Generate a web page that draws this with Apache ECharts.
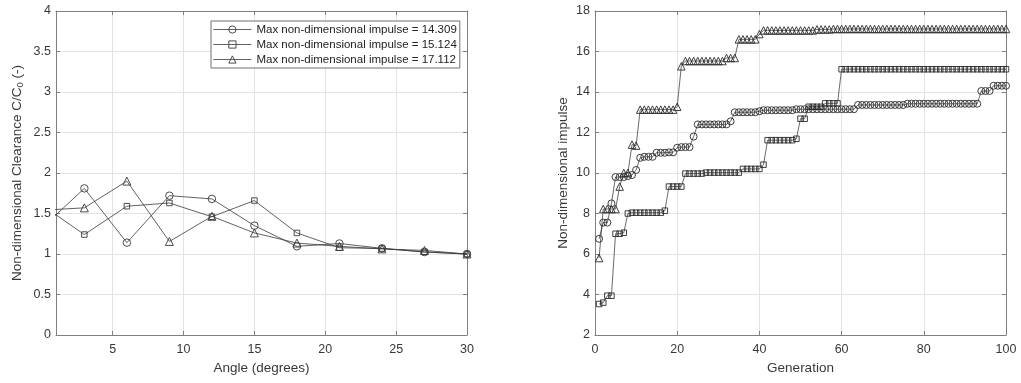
<!DOCTYPE html>
<html>
<head>
<meta charset="utf-8">
<script src="https://cdn.jsdelivr.net/npm/echarts@6/dist/echarts.min.js"></script>
<style>
html,body{margin:0;padding:0;background:#fff;}
#c{width:1021px;height:383px;}
</style>
</head>
<body>
<div id="c"></div>
<script>
// ---------- Left chart data ----------
const angles = [0, 3, 6, 9, 12, 15, 18, 21, 24, 27, 30];
const clearCircle   = [1.32, 1.81, 1.14, 1.72, 1.68, 1.35, 1.095, 1.13, 1.07, 1.025, 1.0];
const clearSquare   = [1.605, 1.24, 1.59, 1.63, 1.46, 1.66, 1.26, 1.077, 1.068, 1.025, 1.0];
const clearTriangle = [1.54, 1.57, 1.90, 1.155, 1.465, 1.26, 1.135, 1.094, 1.063, 1.044, 1.0];
const angleTicks = [5, 10, 15, 20, 25, 30];

const seriesNames = [
  'Max non-dimensional impulse = 14.309',
  'Max non-dimensional impulse = 15.124',
  'Max non-dimensional impulse = 17.112'
];

// ---------- Right chart data ----------
const generations = [
  1,2,3,4,5,6,7,8,9,10,11,12,13,14,15,16,17,18,19,20,
  21,22,23,24,25,26,27,28,29,30,31,32,33,34,35,36,37,38,39,40,
  41,42,43,44,45,46,47,48,49,50,51,52,53,54,55,56,57,58,59,60,
  61,62,63,64,65,66,67,68,69,70,71,72,73,74,75,76,77,78,79,80,
  81,82,83,84,85,86,87,88,89,90,91,92,93,94,95,96,97,98,99,100
];
const impulseCircle = [
  6.75,7.55,7.55,8.5,9.8,9.8,9.8,9.85,9.9,10.15,
  10.75,10.8,10.8,10.8,11.0,11.0,11.0,11.02,11.02,11.25,
  11.28,11.28,11.28,11.8,12.4,12.4,12.4,12.4,12.4,12.4,
  12.4,12.4,12.55,13.0,13.0,13.0,13.0,13.0,13.0,13.05,
  13.1,13.1,13.1,13.1,13.1,13.1,13.1,13.1,13.15,13.15,
  13.15,13.15,13.15,13.15,13.15,13.15,13.15,13.15,13.15,13.15,
  13.15,13.15,13.15,13.36,13.36,13.36,13.36,13.36,13.36,13.36,
  13.36,13.36,13.36,13.36,13.36,13.42,13.42,13.42,13.42,13.42,
  13.42,13.42,13.42,13.42,13.42,13.42,13.42,13.42,13.42,13.42,
  13.42,13.42,13.42,14.05,14.05,14.05,14.309,14.309,14.309,14.309
];
const impulseSquare = [
  3.53,3.6,3.94,3.94,7.0,7.0,7.05,8.0,8.04,8.04,
  8.04,8.04,8.04,8.04,8.04,8.04,8.14,9.33,9.33,9.33,
  9.33,9.97,9.97,9.97,9.97,9.97,10.02,10.02,10.02,10.02,
  10.02,10.02,10.02,10.02,10.02,10.2,10.2,10.2,10.2,10.2,
  10.41,11.62,11.62,11.62,11.62,11.62,11.62,11.62,11.69,12.68,
  12.68,13.27,13.27,13.27,13.27,13.44,13.44,13.44,13.44,15.124,
  15.124,15.124,15.124,15.124,15.124,15.124,15.124,15.124,15.124,15.124,
  15.124,15.124,15.124,15.124,15.124,15.124,15.124,15.124,15.124,15.124,
  15.124,15.124,15.124,15.124,15.124,15.124,15.124,15.124,15.124,15.124,
  15.124,15.124,15.124,15.124,15.124,15.124,15.124,15.124,15.124,15.124
];
const impulseTriangle = [
  5.8,8.22,8.22,8.22,8.22,9.33,10.0,10.0,11.4,11.35,
  13.13,13.13,13.13,13.13,13.13,13.13,13.13,13.13,13.13,13.27,
  15.27,15.53,15.53,15.53,15.53,15.53,15.53,15.53,15.53,15.53,
  15.53,15.68,15.68,15.68,16.6,16.6,16.6,16.6,16.6,16.86,
  17.04,17.04,17.04,17.04,17.04,17.04,17.04,17.04,17.04,17.04,
  17.04,17.04,17.04,17.09,17.09,17.09,17.09,17.112,17.112,17.112,
  17.112,17.112,17.112,17.112,17.112,17.112,17.112,17.112,17.112,17.112,
  17.112,17.112,17.112,17.112,17.112,17.112,17.112,17.112,17.112,17.112,
  17.112,17.112,17.112,17.112,17.112,17.112,17.112,17.112,17.112,17.112,
  17.112,17.112,17.112,17.112,17.112,17.112,17.112,17.112,17.112,17.112
];

// ---------- Styling ----------
const FONT = 'Liberation Sans, Arial, Helvetica, sans-serif';
const AXIS_COLOR = '#7f7f7f';
const TEXT_COLOR = '#383838';
const GRID_COLOR = '#e3e3e3';

function pairs(xs, ys) { return xs.map((x, i) => [x, ys[i]]); }

function mainX(gridIndex, min, max, name, extra) {
  return Object.assign({
    type: 'value', gridIndex, min, max, position: 'bottom',
    name, nameLocation: 'middle', nameGap: 26,
    nameTextStyle: { fontFamily: FONT, fontSize: 13.5, color: TEXT_COLOR },
    axisLine: { show: true, onZero: false, lineStyle: { color: AXIS_COLOR, width: 1 } },
    axisTick: { show: true, inside: true, length: 4, lineStyle: { color: AXIS_COLOR } },
    axisLabel: { fontFamily: FONT, fontSize: 12.5, color: TEXT_COLOR, margin: 8 },
    splitLine: { show: true, lineStyle: { color: GRID_COLOR, width: 1 } }
  }, extra || {});
}
function topX(gridIndex, min, max, extra) {
  return Object.assign({
    type: 'value', gridIndex, min, max, position: 'top',
    axisLine: { show: true, onZero: false, lineStyle: { color: AXIS_COLOR, width: 1 } },
    axisTick: { show: true, inside: true, length: 4, lineStyle: { color: AXIS_COLOR } },
    axisLabel: { show: false },
    splitLine: { show: false }
  }, extra || {});
}
function mainY(gridIndex, min, max, interval, name, nameGap, extraNameStyle) {
  return {
    type: 'value', gridIndex, min, max, interval, position: 'left',
    name, nameLocation: 'middle', nameGap,
    nameTextStyle: Object.assign({ fontFamily: FONT, fontSize: 13.5, color: TEXT_COLOR }, extraNameStyle || {}),
    axisLine: { show: true, onZero: false, lineStyle: { color: AXIS_COLOR, width: 1 } },
    axisTick: { show: true, inside: true, length: 4, lineStyle: { color: AXIS_COLOR } },
    axisLabel: { fontFamily: FONT, fontSize: 12.5, color: TEXT_COLOR, margin: 5 },
    splitLine: { show: true, lineStyle: { color: GRID_COLOR, width: 1 } }
  };
}
function rightY(gridIndex, min, max, interval) {
  return {
    type: 'value', gridIndex, min, max, interval, position: 'right',
    axisLine: { show: true, onZero: false, lineStyle: { color: AXIS_COLOR, width: 1 } },
    axisTick: { show: true, inside: true, length: 4, lineStyle: { color: AXIS_COLOR } },
    axisLabel: { show: false },
    splitLine: { show: false }
  };
}

function lineSeries(name, symbol, size, data, xIdx, yIdx, color, lw) {
  return {
    type: 'line', name, data, xAxisIndex: xIdx, yAxisIndex: yIdx,
    symbol, symbolSize: size, showSymbol: true, clip: true,
    lineStyle: { color, width: lw },
    itemStyle: { color: 'rgba(0,0,0,0)', borderColor: color, borderWidth: 0.9 },
    emphasis: { disabled: true },
    animation: false
  };
}

const option = {
  backgroundColor: '#fff',
  animation: false,
  grid: [
    { left: 56, top: 11, width: 411, height: 324, containLabel: false },
    { left: 595, top: 11, width: 411, height: 324, containLabel: false }
  ],
  legend: {
    left: 211, top: 21, orient: 'vertical',
    itemWidth: 38, itemHeight: 9, itemGap: 0,
    padding: [1, 3, 1, 2],
    borderColor: '#6f6f6f', borderWidth: 1, backgroundColor: '#fff',
    selectedMode: false,
    lineStyle: { width: 0.8, color: '#3a3a3a' },
    itemStyle: { color: 'rgba(0,0,0,0)', borderColor: '#3a3a3a', borderWidth: 0.9 },
    textStyle: { fontFamily: FONT, fontSize: 11.5, color: '#222', lineHeight: 15 },
    data: seriesNames
  },
  xAxis: [
    mainX(0, 1, 30, 'Angle (degrees)', {
      axisTick: { show: true, inside: true, length: 4, lineStyle: { color: AXIS_COLOR }, customValues: angleTicks },
      axisLabel: { fontFamily: FONT, fontSize: 12.5, color: TEXT_COLOR, margin: 8, customValues: angleTicks }
    }),
    topX(0, 1, 30, {
      axisTick: { show: true, inside: true, length: 4, lineStyle: { color: AXIS_COLOR }, customValues: angleTicks }
    }),
    mainX(1, 0, 100, 'Generation', { interval: 20 }),
    topX(1, 0, 100, { interval: 20 })
  ],
  yAxis: [
    mainY(0, 0, 4, 0.5, 'Non-dimensional Clearance C/C{sub|0} (-)', 31, {
      lineHeight: 16,
      rich: { sub: { fontFamily: FONT, fontSize: 9.5, lineHeight: 8, verticalAlign: 'bottom', color: TEXT_COLOR } }
    }),
    rightY(0, 0, 4, 0.5),
    mainY(1, 2, 18, 2, 'Non-dimensional impulse', 25),
    rightY(1, 2, 18, 2)
  ],
  series: [
    lineSeries(seriesNames[0], 'circle', 7.5, pairs(angles, clearCircle), 0, 0, '#3a3a3a', 0.8),
    lineSeries(seriesNames[1], 'rect', 5.5, pairs(angles, clearSquare), 0, 0, '#3a3a3a', 0.8),
    lineSeries(seriesNames[2], 'triangle', 8, pairs(angles, clearTriangle), 0, 0, '#3a3a3a', 0.8),
    lineSeries(seriesNames[0], 'circle', 7, pairs(generations, impulseCircle), 2, 2, '#2a2a2a', 0.7),
    lineSeries(seriesNames[1], 'rect', 5.5, pairs(generations, impulseSquare), 2, 2, '#2a2a2a', 0.7),
    lineSeries(seriesNames[2], 'triangle', 7.5, pairs(generations, impulseTriangle), 2, 2, '#2a2a2a', 0.7)
  ]
};

const chart = echarts.init(document.getElementById('c'), null, { renderer: 'canvas' });
chart.setOption(option);
</script>
</body>
</html>
